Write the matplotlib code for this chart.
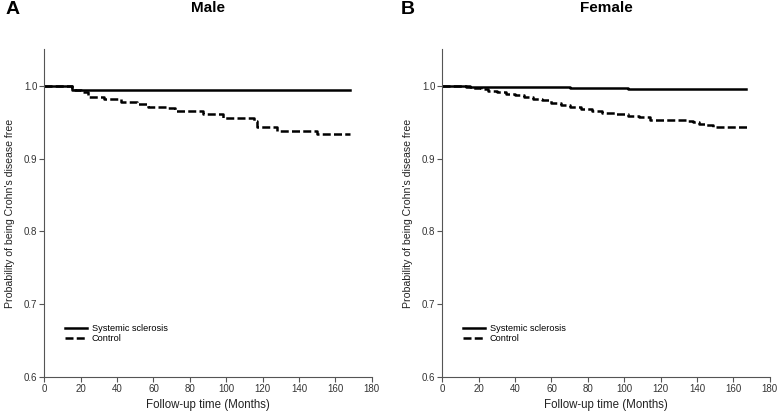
import matplotlib
matplotlib.use("Agg")
import matplotlib.pyplot as plt

plt.rcParams['font.family'] = ['Liberation Sans', 'DejaVu Sans']

# Male, Kaplan-Meier steps (months, survival)
male_ssc_t = [0, 15, 168]
male_ssc_s = [1.0, 0.9945, 0.9945]
male_ctl_t = [0, 15, 17, 20, 24, 33, 42, 51, 57, 67, 72, 87, 98, 115, 117,
              128, 150, 168]
male_ctl_s = [1.0, 0.997, 0.994, 0.991, 0.985, 0.9825, 0.9775, 0.9755,
              0.9715, 0.969, 0.9655, 0.961, 0.956, 0.952, 0.9435, 0.938,
              0.9335, 0.9335]

# Female
fem_ssc_t = [0, 15, 32, 70, 102, 167]
fem_ssc_s = [1.0, 0.999, 0.998, 0.9968, 0.9954, 0.9954]
fem_ctl_t = [0, 13, 17, 21, 25, 30, 35, 40, 45, 50, 55, 60, 65, 70, 76, 82,
             88, 95, 102, 108, 114, 135, 138, 141, 145, 149, 168]
fem_ctl_s = [1.0, 0.999, 0.997, 0.995, 0.993, 0.991, 0.989, 0.987, 0.985,
             0.982, 0.980, 0.977, 0.974, 0.971, 0.968, 0.965, 0.963, 0.961,
             0.959, 0.957, 0.953, 0.952, 0.950, 0.948, 0.946, 0.943, 0.943]

x_ticks = [0, 20, 40, 60, 80, 100, 120, 140, 160, 180]
y_ticks = [0.6, 0.7, 0.8, 0.9, 1.0]

panels = [
    ("A", "Male", male_ssc_t, male_ssc_s, male_ctl_t, male_ctl_s),
    ("B", "Female", fem_ssc_t, fem_ssc_s, fem_ctl_t, fem_ctl_s),
]


def main():
    fig = plt.figure(figsize=(7.78, 4.19), dpi=100)
    lefts = [0.0569, 0.5685]
    letter_x = [0.016, 0.524]
    axis_grey = "#555555"

    for i, (letter, title, st, ss, ct, cs) in enumerate(panels):
        ax = fig.add_axes([lefts[i], 0.101, 0.421, 0.781])
        ax.step(st, ss, where="post", color="black", lw=1.8,
                label="Systemic sclerosis")
        ax.step(ct, cs, where="post", color="black", lw=1.8,
                dashes=(3.2, 1.3), label="Control")

        ax.set_xlim(0, 180)
        ax.set_ylim(0.6, 1.05)
        ax.set_xticks(x_ticks)
        ax.set_yticks(y_ticks)
        ax.set_yticklabels([f"{v:.1f}" for v in y_ticks])
        for side in ["top", "right"]:
            ax.spines[side].set_visible(False)
        for side in ["left", "bottom"]:
            ax.spines[side].set_color(axis_grey)
            ax.spines[side].set_linewidth(0.8)
        ax.tick_params(colors=axis_grey, labelcolor="#333333",
                       labelsize=7, length=3.5, width=0.8, pad=1.5)

        ax.set_xlabel("Follow-up time (Months)", fontsize=8.3,
                      color="#222222", labelpad=4)
        ax.set_ylabel("Probability of being Crohn's disease free",
                      fontsize=7.6, color="#222222")
        ax.yaxis.set_label_coords(-0.088, 0.5)

        ax.legend(loc="center left", bbox_to_anchor=(0.064, 0.131),
                  frameon=False, fontsize=6.6, handlelength=2.4,
                  handletextpad=0.5, labelspacing=0.08, borderpad=0,
                  borderaxespad=0)

        ax.text(0.5, 1.128, title, transform=ax.transAxes, ha="center",
                va="center", fontsize=11, fontweight="bold")
        fig.text(letter_x[i], 1 - 10 / 419, letter, ha="center",
                 va="center", fontsize=14, fontweight="bold")

    fig.savefig("out.png", dpi=100)


if __name__ == "__main__":
    main()
